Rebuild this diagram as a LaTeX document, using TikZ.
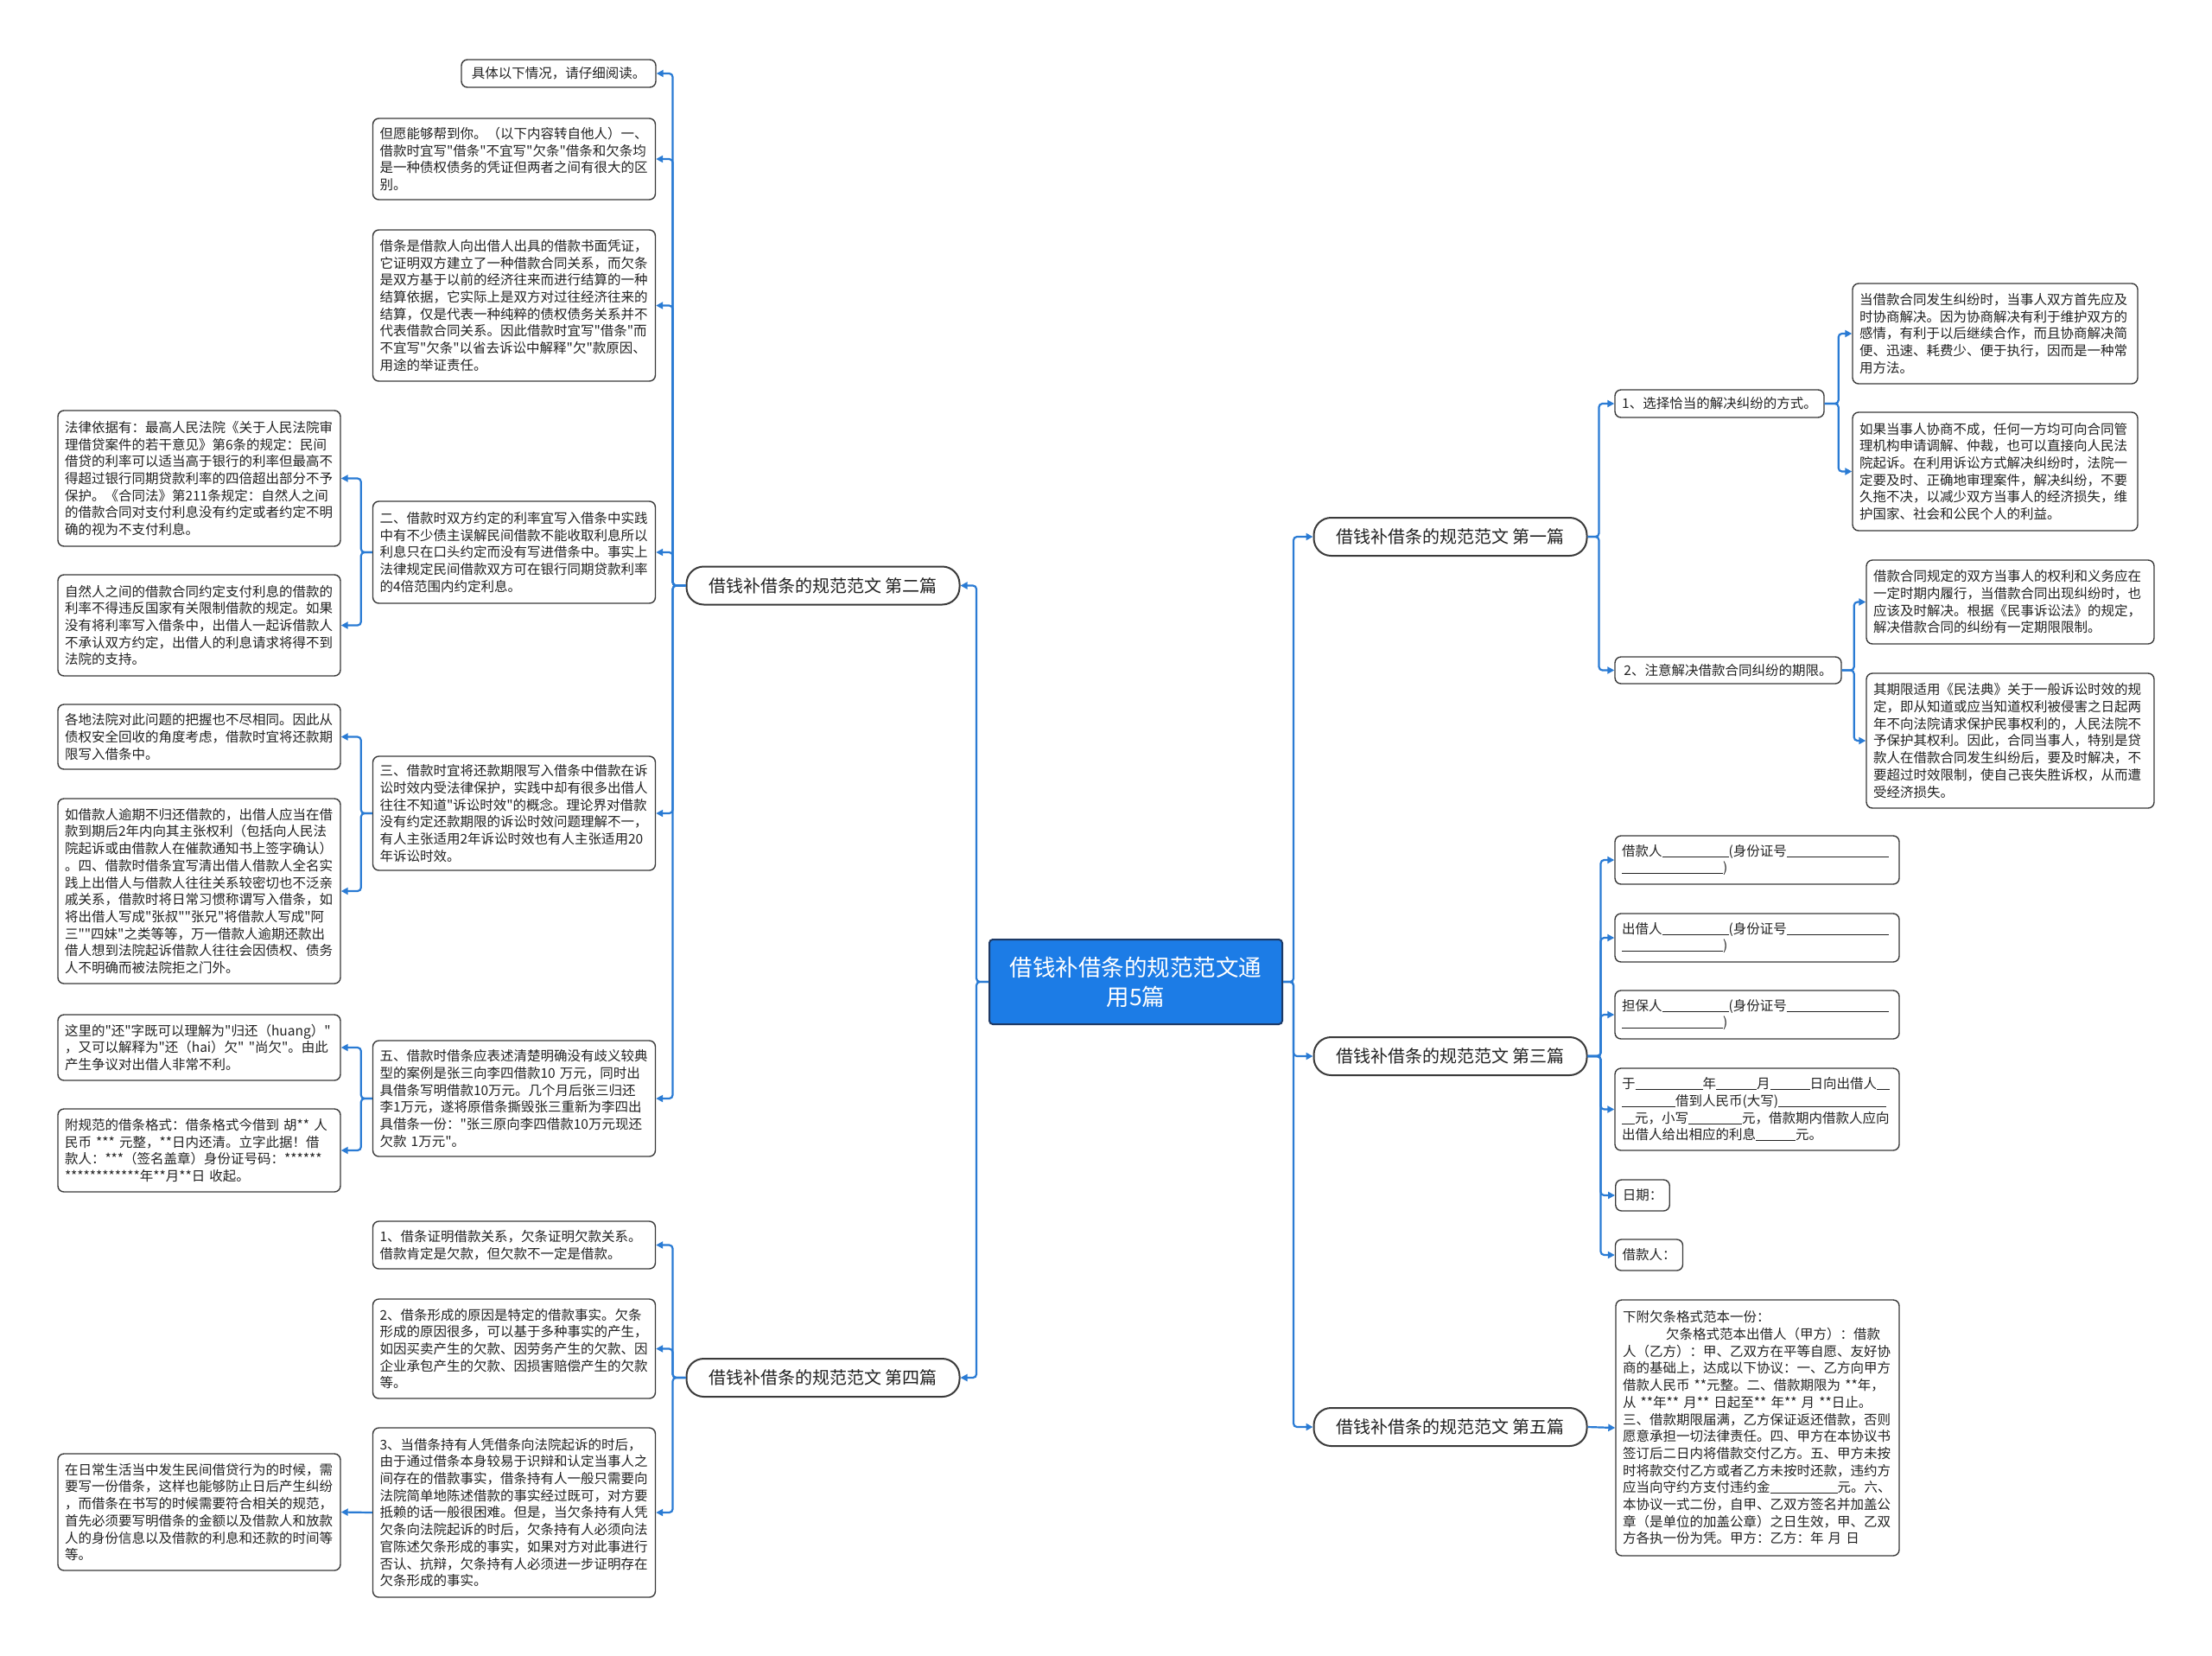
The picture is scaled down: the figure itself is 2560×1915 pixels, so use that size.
\documentclass[tikz,border=0pt]{standalone}
\usepackage{fontspec}
\setmainfont{Noto Sans CJK SC}[Ligatures=TeXOff]
\usetikzlibrary{arrows.meta}
\definecolor{linec}{HTML}{2A7BD4}
\definecolor{boxc}{HTML}{3A3A3A}
\definecolor{txtc}{HTML}{222222}
\definecolor{mainc}{HTML}{1C7CE6}
\definecolor{mainb}{HTML}{1E3A66}
\newcommand\fsA{\fontsize{15.5pt}{19.7pt}\selectfont}
\newcommand\blk[1]{\rule[-1.5pt]{#1pt}{1pt}}
\tikzset{
 conn/.style={draw=linec, line width=2.2pt, rounded corners=4pt, -{Triangle[length=8pt,width=8pt]}},
 leaf/.style={draw=boxc, line width=1.4pt, rounded corners=7pt, fill=white, align=left, inner xsep=8pt, inner ysep=3pt, font=\fsA, text=txtc},
 topic/.style={draw=boxc, line width=2pt, rounded corners=20pt, fill=white, minimum width=316pt, minimum height=44pt, font=\fontsize{20pt}{24pt}\selectfont, text=txtc, inner sep=0pt},
 root/.style={draw=mainb, line width=2pt, rounded corners=4pt, fill=mainc, text=white, minimum width=339pt, minimum height=98pt, font=\fontsize{26.5pt}{34pt}\selectfont, align=center, inner sep=0pt},
}
\begin{document}
\begin{tikzpicture}[x=1pt,y=-1pt]
\useasboundingbox[fill=white] (0,0) rectangle (2560,1915);

% root and main topics
\node[root] (R) at (1314.5,1136) {借钱补借条的规范范文通\\用5篇};
\node[topic] (P1) at (1678.5,621) {借钱补借条的规范范文 第一篇};
\node[topic] (P2) at (952.5,677.5) {借钱补借条的规范范文 第二篇};
\node[topic] (P3) at (1678.5,1222) {借钱补借条的规范范文 第三篇};
\node[topic] (P4) at (952.5,1594) {借钱补借条的规范范文 第四篇};
\node[topic] (P5) at (1678.5,1651) {借钱补借条的规范范文 第五篇};

% second topic children
\node[leaf, align=center, text width=209pt, minimum height=32pt] (L1) at (646.5,85) {具体以下情况，请仔细阅读。};
\node[leaf, text width=311pt, minimum height=94pt] (L2) at (595,184) {但愿能够帮到你。（以下内容转自他人）一、\\
借款时宜写"借条"不宜写"欠条"借条和欠条均\\
是一种债权债务的凭证但两者之间有很大的区\\
别。};
\node[leaf, text width=311pt, minimum height=175pt] (L3) at (595,353.5) {借条是借款人向出借人出具的借款书面凭证，\\
它证明双方建立了一种借款合同关系，而欠条\\
是双方基于以前的经济往来而进行结算的一种\\
结算依据，它实际上是双方对过往经济往来的\\
结算，仅是代表一种纯粹的债权债务关系并不\\
代表借款合同关系。因此借款时宜写"借条"而\\
不宜写"欠条"以省去诉讼中解释"欠"款原因、\\
用途的举证责任。};
\node[leaf, text width=311pt, minimum height=118pt] (L4) at (595,639) {二、借款时双方约定的利率宜写入借条中实践\\
中有不少债主误解民间借款不能收取利息所以\\
利息只在口头约定而没有写进借条中。事实上\\
法律规定民间借款双方可在银行同期贷款利率\\
的4倍范围内约定利息。};
\node[leaf, text width=311pt, minimum height=132pt] (L5) at (595,941) {三、借款时宜将还款期限写入借条中借款在诉\\
讼时效内受法律保护，实践中却有很多出借人\\
往往不知道"诉讼时效"的概念。理论界对借款\\
没有约定还款期限的诉讼时效问题理解不一，\\
有人主张适用2年诉讼时效也有人主张适用20\\
年诉讼时效。};
\node[leaf, text width=311pt, minimum height=134pt] (L6) at (595,1271) {五、借款时借条应表述清楚明确没有歧义较典\\
型的案例是张三向李四借款10 万元，同时出\\
具借条写明借款10万元。几个月后张三归还\\
李1万元，遂将原借条撕毁张三重新为李四出\\
具借条一份："张三原向李四借款10万元现还\\
欠款 1万元"。};

% far left
\node[leaf, text width=311pt, minimum height=157pt] (F1) at (230.5,553.5) {法律依据有：最高人民法院《关于人民法院审\\
理借贷案件的若干意见》第6条的规定：民间\\
借贷的利率可以适当高于银行的利率但最高不\\
得超过银行同期贷款利率的四倍超出部分不予\\
保护。《合同法》第211条规定：自然人之间\\
的借款合同对支付利息没有约定或者约定不明\\
确的视为不支付利息。};
\node[leaf, text width=311pt, minimum height=117pt] (F2) at (230.5,723.5) {自然人之间的借款合同约定支付利息的借款的\\
利率不得违反国家有关限制借款的规定。如果\\
没有将利率写入借条中，出借人一起诉借款人\\
不承认双方约定，出借人的利息请求将得不到\\
法院的支持。};
\node[leaf, text width=311pt, minimum height=75pt] (F3) at (230.5,852.5) {各地法院对此问题的把握也不尽相同。因此从\\
债权安全回收的角度考虑，借款时宜将还款期\\
限写入借条中。};
\node[leaf, text width=311pt, minimum height=214pt] (F4) at (230.5,1031) {如借款人逾期不归还借款的，出借人应当在借\\
款到期后2年内向其主张权利（包括向人民法\\
院起诉或由借款人在催款通知书上签字确认）\\
。四、借款时借条宜写清出借人借款人全名实\\
践上出借人与借款人往往关系较密切也不泛亲\\
戚关系，借款时将日常习惯称谓写入借条，如\\
将出借人写成"张叔""张兄"将借款人写成"阿\\
三""四妹"之类等等，万一借款人逾期还款出\\
借人想到法院起诉借款人往往会因债权、债务\\
人不明确而被法院拒之门外。};
\node[leaf, text width=311pt, minimum height=76pt] (F5) at (230.5,1212) {这里的"还"字既可以理解为"归还（huang）"\\
，又可以解释为"还（hai）欠"~"尚欠"。由此\\
产生争议对出借人非常不利。};
\node[leaf, text width=311pt, minimum height=96pt] (F6) at (230.5,1331) {附规范的借条格式：借条格式今借到 胡** 人\\
民币 *** 元整，**日内还清。立字此据！借\\
款人：***（签名盖章）身份证号码：******\\
*************年**月**日 收起。};

% fourth topic children
\node[leaf, text width=311pt, minimum height=55pt] (D1) at (595,1440.5) {1、借条证明借款关系，欠条证明欠款关系。\\
借款肯定是欠款，但欠款不一定是借款。};
\node[leaf, text width=311pt, minimum height=115pt] (D2) at (595,1560.5) {2、借条形成的原因是特定的借款事实。欠条\\
形成的原因很多，可以基于多种事实的产生，\\
如因买卖产生的欠款、因劳务产生的欠款、因\\
企业承包产生的欠款、因损害赔偿产生的欠款\\
等。};
\node[leaf, text width=311pt, minimum height=196pt] (D3) at (595,1750) {3、当借条持有人凭借条向法院起诉的时后，\\
由于通过借条本身较易于识辩和认定当事人之\\
间存在的借款事实，借条持有人一般只需要向\\
法院简单地陈述借款的事实经过既可，对方要\\
抵赖的话一般很困难。但是，当欠条持有人凭\\
欠条向法院起诉的时后，欠条持有人必须向法\\
官陈述欠条形成的事实，如果对方对此事进行\\
否认、抗辩，欠条持有人必须进一步证明存在\\
欠条形成的事实。};
\node[leaf, text width=311pt, minimum height=135pt] (F7) at (230.5,1749.5) {在日常生活当中发生民间借贷行为的时候，需\\
要写一份借条，这样也能够防止日后产生纠纷\\
，而借条在书写的时候需要符合相关的规范，\\
首先必须要写明借条的金额以及借款人和放款\\
人的身份信息以及借款的利息和还款的时间等\\
等。};

% first topic children
\node[leaf, align=center, text width=226pt, minimum height=32pt] (A1) at (1990,467) {1、选择恰当的解决纠纷的方式。};
\node[leaf, align=center, text width=246pt, minimum height=31pt] (A2) at (2000,775.5) {2、注意解决借款合同纠纷的期限。};
\node[leaf, text width=314pt, minimum height=116pt] (A11) at (2309,386) {当借款合同发生纠纷时，当事人双方首先应及\\
时协商解决。因为协商解决有利于维护双方的\\
感情，有利于以后继续合作，而且协商解决简\\
便、迅速、耗费少、便于执行，因而是一种常\\
用方法。};
\node[leaf, text width=314pt, minimum height=137pt] (A12) at (2309,545.5) {如果当事人协商不成，任何一方均可向合同管\\
理机构申请调解、仲裁，也可以直接向人民法\\
院起诉。在利用诉讼方式解决纠纷时，法院一\\
定要及时、正确地审理案件，解决纠纷，不要\\
久拖不决，以减少双方当事人的经济损失，维\\
护国家、社会和公民个人的利益。};
\node[leaf, text width=317pt, minimum height=97pt] (A21) at (2326.5,696.5) {借款合同规定的双方当事人的权利和义务应在\\
一定时期内履行，当借款合同出现纠纷时，也\\
应该及时解决。根据《民事诉讼法》的规定，\\
解决借款合同的纠纷有一定期限限制。};
\node[leaf, text width=317pt, minimum height=156pt] (A22) at (2326.5,857) {其期限适用《民法典》关于一般诉讼时效的规\\
定，即从知道或应当知道权利被侵害之日起两\\
年不向法院请求保护民事权利的，人民法院不\\
予保护其权利。因此，合同当事人，特别是贷\\
款人在借款合同发生纠纷后，要及时解决，不\\
要超过时效限制，使自己丧失胜诉权，从而遭\\
受经济损失。};

% third topic children
\node[leaf, text width=313pt, minimum height=56pt] (T1) at (2033.5,995) {借款人\blk{77}(身份证号\blk{118}\\\blk{117})};
\node[leaf, text width=313pt, minimum height=56pt] (T2) at (2033.5,1085) {出借人\blk{77}(身份证号\blk{118}\\\blk{117})};
\node[leaf, text width=313pt, minimum height=56pt] (T3) at (2033.5,1174) {担保人\blk{77}(身份证号\blk{118}\\\blk{117})};
\node[leaf, text width=313pt, minimum height=95pt] (T4) at (2033.5,1283.5) {于\blk{78}年\blk{47}月\blk{46}日向出借人\blk{15}\\
\blk{62}借到人民币(大写)\blk{125}\\
\blk{15}元，小写\blk{62}元，借款期内借款人应向\\
出借人给出相应的利息\blk{46}元。};
\node[leaf, minimum height=36pt] (T5) at (1901,1383) {日期：};
\node[leaf, minimum height=36pt] (T6) at (1908.5,1452) {借款人：};

% fifth topic child
\node[leaf, text width=312pt, minimum height=296pt] (E1) at (2034,1652) {下附欠条格式范本一份：\\
\hspace*{50pt}欠条格式范本出借人（甲方）：借款\\
人（乙方）：甲、乙双方在平等自愿、友好协\\
商的基础上，达成以下协议：一、乙方向甲方\\
借款人民币 **元整。二、借款期限为 **年，\\
从 **年** 月** 日起至** 年** 月 **日止。\\
三、借款期限届满，乙方保证返还借款，否则\\
愿意承担一切法律责任。四、甲方在本协议书\\
签订后二日内将借款交付乙方。五、甲方未按\\
时将款交付乙方或者乙方未按时还款，违约方\\
应当向守约方支付违约金\blk{78}元。六、\\
本协议一式二份，自甲、乙双方签名并加盖公\\
章（是单位的加盖公章）之日生效，甲、乙双\\
方各执一份为凭。甲方：乙方：年 月 日};

% connectors: root
\foreach \t in {P2,P4} \draw[conn] (R.west) -- ++(-14,0) |- (\t.east);
\foreach \t in {P1,P3,P5} \draw[conn] (R.east) -- ++(12,0) |- (\t.west);
% second topic
\foreach \t in {L1,L2,L3,L4,L5,L6} \draw[conn] (P2.west) -- ++(-15,0) |- (\t.east);
\foreach \t in {F1,F2} \draw[conn] (L4.west) -- ++(-13,0) |- (\t.east);
\foreach \t in {F3,F4} \draw[conn] (L5.west) -- ++(-13,0) |- (\t.east);
\foreach \t in {F5,F6} \draw[conn] (L6.west) -- ++(-13,0) |- (\t.east);
% fourth topic
\foreach \t in {D1,D2,D3} \draw[conn] (P4.west) -- ++(-15,0) |- (\t.east);
\draw[conn] (D3.west) -- (F7.east);
% first topic
\foreach \t in {A1,A2} \draw[conn] (P1.east) -- ++(13,0) |- (\t.west);
\foreach \t in {A11,A12} \draw[conn] (A1.east) -- ++(16,0) |- (\t.west);
\foreach \t in {A21,A22} \draw[conn] (A2.east) -- ++(14,0) |- (\t.west);
% third topic
\foreach \t in {T1,T2,T3,T4,T5,T6} \draw[conn] (P3.east) -- ++(15,0) |- (\t.west);
% fifth topic
\draw[conn] (P5.east) -- (E1.west);
\end{tikzpicture}
\end{document}
